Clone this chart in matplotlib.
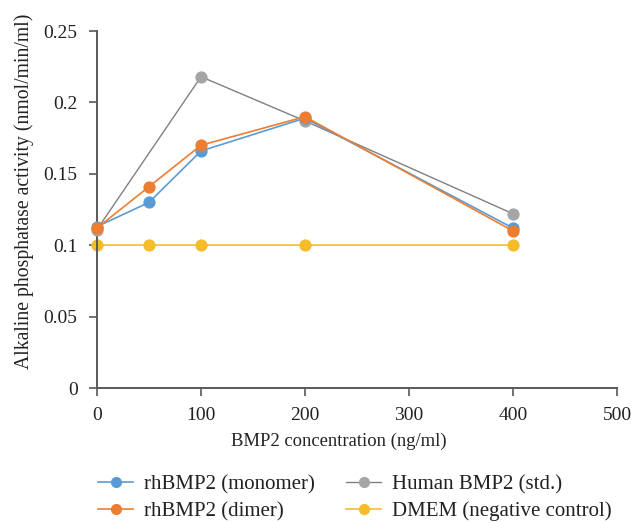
import matplotlib
matplotlib.use('Agg')
import matplotlib.pyplot as plt

plt.rcParams['font.family'] = ['Liberation Serif', 'DejaVu Serif']

# values
conc = [0, 50, 100, 200, 400]
monomer = [0.113, 0.130, 0.166, 0.189, 0.112]
dimer = [0.112, 0.141, 0.170, 0.190, 0.110]
human_conc = [0, 100, 200, 400]
human = [0.111, 0.218, 0.187, 0.122]
dmem = [0.1, 0.1, 0.1, 0.1, 0.1]

xticks = [0, 100, 200, 300, 400, 500]
yticks = [0, 0.05, 0.1, 0.15, 0.2, 0.25]
ytick_labels = ['0', '0.05', '0.1', '0.15', '0.2', '0.25']

fig = plt.figure(figsize=(6.35, 5.23), dpi=100)
ax = fig.add_axes([0.1528, 0.2581, 0.8189, 0.6826])

ax.plot(conc, dmem, color='#F5BD2A', marker='o', ms=7.8, lw=1.2,
        label='DMEM (negative control)', zorder=2)
ax.plot(human_conc, human, color='#808080', marker='o', ms=7.8, lw=1.0,
        mfc='#A5A5A5', mec='#A5A5A5', label='Human BMP2 (std.)', zorder=3)
ax.plot(conc, monomer, color='#5B9BD5', marker='o', ms=7.8, lw=1.2,
        label='rhBMP2 (monomer)', zorder=4)
ax.plot(conc, dimer, color='#ED7D31', marker='o', ms=7.8, lw=1.2,
        label='rhBMP2 (dimer)', zorder=5)

ax.set_xlim(0, 500)
ax.set_ylim(0, 0.25)
ax.set_xticks(xticks)
ax.set_yticks(yticks)
ax.set_yticklabels(ytick_labels)
for sp in ['top', 'right']:
    ax.spines[sp].set_visible(False)
for sp in ['left', 'bottom']:
    ax.spines[sp].set_color('#595959')
    ax.spines[sp].set_linewidth(1.4)
ax.tick_params(direction='out', length=6, width=1.2, color='#595959',
               labelsize=14, labelcolor='#222222', pad=8)
for line in ax.get_lines():
    line.set_clip_on(False)

ax.set_xlabel('BMP2 concentration (ng/ml)', fontsize=13.4, color='#222222')
ax.xaxis.set_label_coords(0.465, -0.125)
ax.set_ylabel('Alkaline phosphatase activity (nmol/min/ml)', fontsize=14.2,
              color='#222222')
ax.yaxis.set_label_coords(-0.122, 0.55)

h, l = ax.get_legend_handles_labels()
order = [2, 3, 1, 0]
ax.legend([h[i] for i in order], [l[i] for i in order], ncol=2,
          loc='upper left', bbox_to_anchor=(98 / 635, 1 - 475 / 523),
          bbox_transform=fig.transFigure, borderaxespad=0, borderpad=0,
          frameon=False, fontsize=15, handlelength=1.7, columnspacing=1.5,
          labelspacing=0.33, handletextpad=0.5, markerscale=0.9,
          labelcolor='#222222')

fig.savefig('out.png', dpi=100)
